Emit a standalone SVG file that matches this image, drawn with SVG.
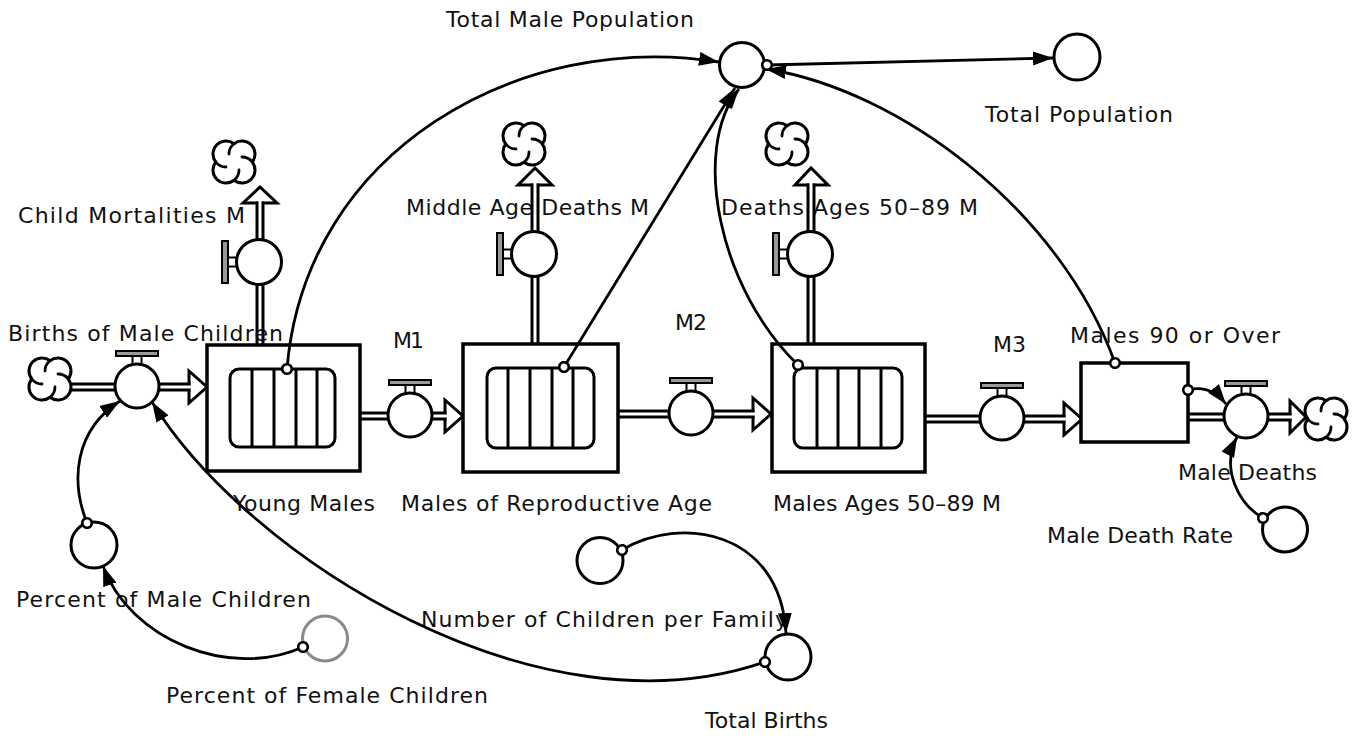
<svg xmlns="http://www.w3.org/2000/svg" xmlns:xlink="http://www.w3.org/1999/xlink" width="1352" height="736" viewBox="0 0 1352 736">
<style>
.lbl{font-family:"DejaVu Sans",Verdana,sans-serif;font-size:22px;fill:#111}
.stock{fill:#fff;stroke:#000;stroke-width:3.5}
.inner{fill:none;stroke:#000;stroke-width:3}
.aux{fill:#fff;stroke:#000;stroke-width:3}
.auxg{fill:#fff;stroke:#8a8a8a;stroke-width:3}
.po{fill:none;stroke:#000;stroke-width:9}
.pi{fill:none;stroke:#fff;stroke-width:3}
.head{fill:#fff;stroke:#000;stroke-width:3;stroke-linejoin:miter}
.link{fill:none;stroke:#000;stroke-width:2.8;marker-start:url(#dot);marker-end:url(#arr)}
.cl{fill:#fff;stroke:#000;stroke-width:3;stroke-linejoin:round}
.sw{fill:none;stroke:#000;stroke-width:2.8;stroke-linecap:round}
</style>
<defs>
<marker id="arr" markerUnits="userSpaceOnUse" markerWidth="21" markerHeight="16" viewBox="0 0 21 16" refX="20" refY="8" orient="auto"><path d="M0,1 L20,8 L0,15 z" fill="#000"/></marker>
<marker id="dot" markerUnits="userSpaceOnUse" markerWidth="14" markerHeight="14" viewBox="-7 -7 14 14" refX="0" refY="0" orient="auto"><circle r="4.8" fill="#fff" stroke="#000" stroke-width="2.6"/></marker>
<g id="valveH">
<rect x="-21" y="-35" width="42" height="5" fill="#999" stroke="#000" stroke-width="2"/>
<rect x="-4.5" y="-30" width="9" height="8.5" fill="#fff" stroke="#000" stroke-width="2"/>
<circle r="22" fill="#fff" stroke="#000" stroke-width="3"/>
</g>
<g id="valveV">
<rect x="-37" y="-21" width="6" height="42" fill="#999" stroke="#000" stroke-width="2"/>
<rect x="-31" y="-4.5" width="9" height="9" fill="#fff" stroke="#000" stroke-width="2"/>
<circle r="22.5" fill="#fff" stroke="#000" stroke-width="3"/>
</g>
<g id="cloud">
<path class="cl" d="M0,-18.25 A13,13 0 0 1 18.25,0 A13,13 0 0 1 0,18.25 A13,13 0 0 1 -18.25,0 A13,13 0 0 1 0,-18.25 Z"/>
<path class="sw" d="M0,-18.25 A13,13 0 0 0 -5,-8"/>
<path class="sw" d="M0,-18.25 A13,13 0 0 0 -5,-8" transform="rotate(90)"/>
<path class="sw" d="M0,-18.25 A13,13 0 0 0 -5,-8" transform="rotate(180)"/>
<path class="sw" d="M0,-18.25 A13,13 0 0 0 -5,-8" transform="rotate(270)"/>
</g>
</defs>
<rect width="1352" height="736" fill="#fff"/>

<g id="flow-pipes">
<polygon class="head" points="189,371 207,387 189,403"/>
<path class="po" d="M72,387H190.5"/><path class="pi" d="M72,387H191"/>
<polygon class="head" points="445,400 463,416 445,432"/>
<path class="po" d="M360,416H446.5"/><path class="pi" d="M360,416H447"/>
<polygon class="head" points="753,398 771,414 753,430"/>
<path class="po" d="M618,414H754.5"/><path class="pi" d="M618,414H755"/>
<polygon class="head" points="1064,403 1082,419 1064,435"/>
<path class="po" d="M925,419H1065.5"/><path class="pi" d="M925,419H1066"/>
<polygon class="head" points="1290,401 1306,417 1290,433"/>
<path class="po" d="M1188,417H1291.5"/><path class="pi" d="M1188,417H1292"/>
<polygon class="head" points="243,203 260,187 277,203"/>
<path class="po" d="M260,345V201.5"/><path class="pi" d="M260,345V201"/>
<polygon class="head" points="518,185 535,168 552,185"/>
<path class="po" d="M535,344V183.5"/><path class="pi" d="M535,344V183"/>
<polygon class="head" points="795,185 811,168 828,185"/>
<path class="po" d="M811,344V183.5"/><path class="pi" d="M811,344V183"/>
</g>

<g id="cloud-births"><use xlink:href="#cloud" href="#cloud" x="50" y="379"/></g>
<g id="cloud-child"><use xlink:href="#cloud" href="#cloud" x="234" y="162"/></g>
<g id="cloud-middle"><use xlink:href="#cloud" href="#cloud" x="524" y="144"/></g>
<g id="cloud-50-89"><use xlink:href="#cloud" href="#cloud" x="787" y="144"/></g>
<g id="cloud-deaths"><use xlink:href="#cloud" href="#cloud" x="1326" y="419"/></g>

<g id="births-of-male-children">
<use xlink:href="#valveH" href="#valveH" x="137" y="386"/>
<text class="lbl" x="8" y="341" textLength="275">Births of Male Children</text>
</g>
<g id="m1">
<use xlink:href="#valveH" href="#valveH" x="410" y="415"/>
<text class="lbl" x="393" y="348" textLength="31">M1</text>
</g>
<g id="m2">
<use xlink:href="#valveH" href="#valveH" x="691" y="413"/>
<text class="lbl" x="675" y="330" textLength="32">M2</text>
</g>
<g id="m3">
<use xlink:href="#valveH" href="#valveH" x="1002" y="418"/>
<text class="lbl" x="993" y="352" textLength="33">M3</text>
</g>
<g id="male-deaths">
<use xlink:href="#valveH" href="#valveH" x="1246" y="416"/>
<text class="lbl" x="1178" y="480" textLength="139">Male Deaths</text>
</g>
<g id="child-mortalities-m">
<use xlink:href="#valveV" href="#valveV" x="259" y="262"/>
<text class="lbl" x="18" y="223" textLength="227">Child Mortalities M</text>
</g>
<g id="middle-age-deaths-m">
<use xlink:href="#valveV" href="#valveV" x="534" y="254"/>
<text class="lbl" x="406" y="215" textLength="243">Middle Age Deaths M</text>
</g>
<g id="deaths-ages-50-89-m">
<use xlink:href="#valveV" href="#valveV" x="810" y="254"/>
<text class="lbl" x="721" y="215" textLength="257">Deaths Ages 50–89 M</text>
</g>

<g id="young-males">
<rect class="stock" x="207" y="345" width="153" height="126"/>
<rect class="inner" x="230" y="369" width="105" height="78" rx="9"/>
<path class="inner" d="M252,369V447M274,369V447M296,369V447M317,369V447"/>
<text class="lbl" x="233" y="511" textLength="142">Young Males</text>
</g>
<g id="males-of-reproductive-age">
<rect class="stock" x="463" y="344" width="155" height="128"/>
<rect class="inner" x="487" y="368" width="107" height="80" rx="9"/>
<path class="inner" d="M508,368V448M530,368V448M552,368V448M573,368V448"/>
<text class="lbl" x="401" y="511" textLength="311">Males of Reproductive Age</text>
</g>
<g id="males-ages-50-89-m">
<rect class="stock" x="772" y="344" width="153" height="128"/>
<rect class="inner" x="794" y="368" width="108" height="80" rx="9"/>
<path class="inner" d="M817,368V448M838,368V448M859,368V448M881,368V448"/>
<text class="lbl" x="773" y="511" textLength="228">Males Ages 50–89 M</text>
</g>
<g id="males-90-or-over">
<rect class="stock" x="1081" y="363" width="107" height="79"/>
<text class="lbl" x="1070" y="343" textLength="210">Males 90 or Over</text>
</g>

<g id="total-male-population">
<circle class="aux" cx="742" cy="65" r="22.5"/>
<text class="lbl" x="446" y="27" textLength="248">Total Male Population</text>
</g>
<g id="total-population">
<circle class="aux" cx="1077" cy="57" r="23"/>
<text class="lbl" x="985" y="122" textLength="188">Total Population</text>
</g>
<g id="percent-of-male-children">
<circle class="aux" cx="94" cy="545" r="23"/>
<text class="lbl" x="16" y="607" textLength="295">Percent of Male Children</text>
</g>
<g id="percent-of-female-children">
<circle class="auxg" cx="325" cy="638.5" r="22.5"/>
<text class="lbl" x="166" y="703" textLength="322">Percent of Female Children</text>
</g>
<g id="number-of-children-per-family">
<circle class="aux" cx="600" cy="560.5" r="23"/>
<text class="lbl" x="421" y="627" textLength="367">Number of Children per Family</text>
</g>
<g id="total-births">
<circle class="aux" cx="788" cy="657" r="23"/>
<text class="lbl" x="705" y="728" textLength="123">Total Births</text>
</g>
<g id="male-death-rate">
<circle class="aux" cx="1285" cy="529.5" r="22.5"/>
<text class="lbl" x="1047" y="543" textLength="186">Male Death Rate</text>
</g>

<g id="connectors">
<path class="link" d="M287,369 C305,150 520,30 719,62"/>
<path class="link" d="M564,367 L735,88"/>
<path class="link" d="M798,365 C720,290 690,150 739,89"/>
<path class="link" d="M1115,363 C1060,210 900,90 766,69"/>
<path class="link" d="M767,65 L1053,58"/>
<path class="link" d="M87,523 C70,480 75,430 120,401"/>
<path class="link" d="M765,662 C540,740 250,560 152,402"/>
<path class="link" d="M303,647 C230,680 130,640 103,566"/>
<path class="link" d="M622,550 C680,515 780,530 786,633"/>
<path class="link" d="M1188,390 Q1210,384 1226,404"/>
<path class="link" d="M1263,518 C1240,505 1220,470 1237,437"/>
</g>
</svg>
